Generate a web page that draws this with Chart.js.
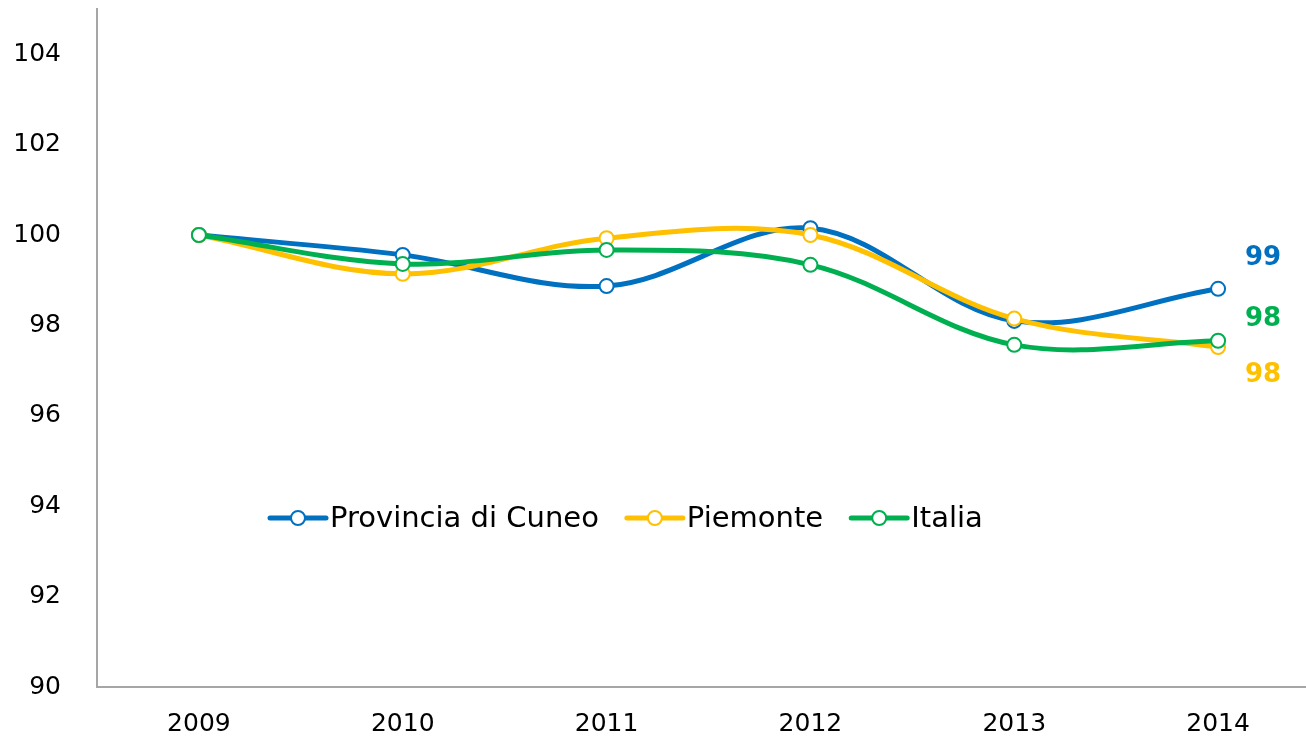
<!DOCTYPE html>
<html>
<head>
<meta charset="utf-8">
<script src="https://cdn.jsdelivr.net/npm/chart.js@4.4.1/dist/chart.umd.min.js"></script>
<style>
html, body { margin: 0; padding: 0; overflow: hidden; background: #fff; }
canvas { display: block; }
</style>
</head>
<body>
<canvas id="trendChart" width="1329" height="737"></canvas>
<script>
const years = ['2009', '2010', '2011', '2012', '2013', '2014'];
const cuneoValues = [100, 99.56, 98.87, 100.15, 98.10, 98.81];
const piemonteValues = [100, 99.14, 99.93, 100.0, 98.15, 97.52];
const italiaValues = [100, 99.36, 99.67, 99.34, 97.57, 97.66];
const yTicks = [90, 92, 94, 96, 98, 100, 102, 104];

const seriesNames = ['Provincia di Cuneo', 'Piemonte', 'Italia'];
const seriesColors = ['#0070C0', '#FFC000', '#00B050'];
// vertical shift of the end label from the last point
const endLabelShift = [-31, 28, -22];

function makeDataset(i, values) {
	return {
		label: seriesNames[i],
		data: values,
		borderColor: seriesColors[i],
		backgroundColor: '#fff',
		borderWidth: 5,
		pointRadius: 7,
		pointBorderWidth: 2,
		pointBackgroundColor: '#fff',
		pointBorderColor: seriesColors[i],
		tension: 0.35,
		order: 3 - i
	};
}

// line + circle legend inside the plot
const insideLegend = {
	id: 'insideLegend',
	afterDraw(chart) {
		const ctx = chart.ctx;
		let x = 270;
		const y = 518;
		ctx.save();
		ctx.font = '29px "DejaVu Sans", Verdana, sans-serif';
		ctx.textBaseline = 'middle';
		ctx.textAlign = 'left';
		seriesNames.forEach((name, i) => {
			ctx.strokeStyle = seriesColors[i];
			ctx.lineWidth = 5;
			ctx.lineCap = 'round';
			ctx.beginPath();
			ctx.moveTo(x, y);
			ctx.lineTo(x + 56, y);
			ctx.stroke();
			ctx.beginPath();
			ctx.arc(x + 28, y, 7, 0, Math.PI * 2);
			ctx.fillStyle = '#fff';
			ctx.fill();
			ctx.lineWidth = 2;
			ctx.stroke();
			ctx.fillStyle = '#000';
			ctx.fillText(name, x + 60, y + 1);
			x += 60 + ctx.measureText(name).width + 28;
		});
		ctx.restore();
	}
};

// value label to the right of each series' last point
const endLabels = {
	id: 'endLabels',
	afterDatasetsDraw(chart) {
		const ctx = chart.ctx;
		ctx.save();
		ctx.font = 'bold 26px "DejaVu Sans", Verdana, sans-serif';
		ctx.textAlign = 'center';
		ctx.textBaseline = 'middle';
		chart.data.datasets.forEach((ds, i) => {
			const meta = chart.getDatasetMeta(i);
			const last = meta.data[meta.data.length - 1];
			const v = ds.data[ds.data.length - 1];
			ctx.fillStyle = seriesColors[i];
			ctx.fillText(String(Math.round(v)), last.x + 45, last.y + endLabelShift[i]);
		});
		ctx.restore();
	}
};

new Chart(document.getElementById('trendChart'), {
	type: 'line',
	data: {
		labels: years,
		datasets: [
			makeDataset(0, cuneoValues),
			makeDataset(1, piemonteValues),
			makeDataset(2, italiaValues)
		]
	},
	options: {
		responsive: false,
		animation: false,
		devicePixelRatio: 1,
		layout: { padding: { top: 8, left: 0, right: 0, bottom: 0 } },
		plugins: {
			legend: { display: false },
			tooltip: { enabled: false }
		},
		scales: {
			x: {
				offset: true,
				grid: { display: false, drawTicks: false },
				border: { display: true, color: '#a6a6a6', width: 2 },
				ticks: {
					color: '#000',
					padding: 22,
					maxRotation: 0,
					font: { family: '"DejaVu Sans", Verdana, sans-serif', size: 25 }
				},
				afterFit(scale) {
					scale.height = 50;
					scale.paddingLeft = 0;
					scale.paddingRight = 0;
					scale.paddingTop = 0;
					scale.paddingBottom = 0;
				}
			},
			y: {
				min: 90,
				max: 105,
				grid: { display: false, drawTicks: false },
				border: { display: true, color: '#a6a6a6', width: 2 },
				afterBuildTicks(scale) {
					scale.ticks = yTicks.map(v => ({ value: v }));
				},
				ticks: {
					color: '#000',
					padding: 36,
					font: { family: '"DejaVu Sans", Verdana, sans-serif', size: 25 }
				},
				afterFit(scale) {
					scale.width = 97;
					scale.paddingTop = 0;
					scale.paddingBottom = 0;
					scale.paddingLeft = 0;
					scale.paddingRight = 0;
				}
			}
		}
	},
	plugins: [insideLegend, endLabels]
});
</script>
</body>
</html>
